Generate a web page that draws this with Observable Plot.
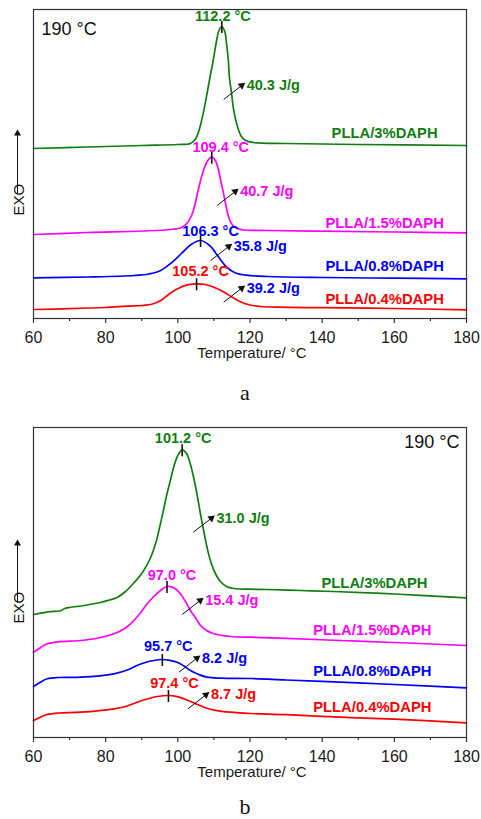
<!DOCTYPE html>
<html>
<head>
<meta charset="utf-8">
<script src="https://cdn.jsdelivr.net/npm/d3@7"></script>
<script src="https://cdn.jsdelivr.net/npm/@observablehq/plot@0.6"></script>
<style>
  body { margin: 0; background: #fff; }
  .cap { font-family: "Liberation Serif", "Times New Roman", serif; font-size: 22px; text-align: center; padding-left: 9px; color: #111; }
  #capA { height: 50px; line-height: 46px; }
  #capB { height: 30px; line-height: 36px; overflow: visible; }
</style>
</head>
<body>
<div id="panelA"></div>
<div class="cap" id="capA">a</div>
<div id="panelB"></div>
<div class="cap" id="capB">b</div>
<script>
// Samples, drawn bottom to top
const samples = ["PLLA/0.4%DAPH", "PLLA/0.8%DAPH", "PLLA/1.5%DAPH", "PLLA/3%DAPH"];
const sampleColors = ["#ff0000", "#0000ff", "#ff00ff", "#0f7f0f"];
const tempTicks = [60, 80, 100, 120, 140, 160, 180];
const tempMinorTicks = [70, 90, 110, 130, 150, 170];

// (a) cooling curves: [temperature °C, heat flow (offset, a.u.)]
const a04 = [[60,9],[70,9.8],[80,11],[86,12.3],[90,13],[93,14.5],[95.5,18.5],[98,25.5],[100.5,30.8],[103,33.8],[105.2,34.7],[107.5,34],[110,31.3],[112.5,27],[115,21.5],[117.5,16.5],[120,13.5],[123,12],[128,11.3],[140,10.8],[160,10],[180,8.7]];
const a08 = [[60,40.7],[75,41.5],[88,43],[92,44.5],[95,47.5],[98,55],[101,65],[103.5,73.5],[106.3,78],[108.8,73],[111.2,62],[113.5,51.5],[116,45.5],[119,43.3],[125,42],[140,41],[160,40.3],[180,39.7]];
const a15 = [[60,84],[75,86],[90,87.5],[98,89],[101,91],[102.5,95],[103.8,103],[104.7,113],[105.4,124.6],[106.3,138],[107.3,150],[108.3,158],[109.4,161.3],[110.4,158],[111.3,148],[112,136],[112.7,124.6],[113.5,110],[114.3,99],[115.3,93],[116.5,90],[118.3,88.5],[125,88],[140,87.3],[160,86.5],[180,85.7]];
const a3 = [[60,170],[75,171.5],[90,173],[100,174],[103.5,175],[105,180],[106.1,191],[107.2,208],[108.1,225],[108.9,241],[109.8,258],[110.6,275],[111.4,288],[112.2,292],[113,287],[113.5,275],[114,258],[114.3,241],[114.9,225],[115.5,208],[116.6,191],[117.6,182],[118.8,178],[121,176],[130,175],[150,174],[180,173]];
const aPeakT = [105.2, 106.3, 109.4, 112.2];
const aEnthalpy = [39.2, 35.8, 40.7, 40.3];

// (b) cooling curves
const b04 = [[60,17],[62,20.5],[63.8,23],[67,24.5],[73,25.3],[82.3,28.7],[86,31.5],[88.7,35.3],[91.5,38.5],[94.3,41],[97.4,42],[99.5,41.2],[101.7,38.7],[104.5,34.5],[107.2,30.3],[110.5,27.2],[114.6,25.3],[120.1,24],[130,22.8],[145,20.3],[160,18.3],[180,14.7]];
const b08 = [[60,51],[62,55.5],[63.8,58.7],[67,60],[73,60.3],[82.3,63.7],[86,67.5],[88.7,72],[91,75],[93.3,77],[95.7,78],[97.8,77.2],[99.8,75.3],[101.7,71.5],[103.5,67],[105.8,63],[108.1,60.3],[112,59.3],[120.1,59],[130,57.5],[145,55.3],[160,53],[180,49.7]];
const b15 = [[60,85.3],[62,90],[63.8,93.7],[67,95.8],[73,97],[78,99.5],[82.3,103.7],[84.8,108],[86.9,113.7],[89.3,123],[91.5,133.7],[93.5,141.5],[95.2,147],[97,151],[99,149.5],[100.7,143.7],[102.2,135.5],[103.5,127],[105,119],[106.3,112],[108,107],[110,103.7],[114.6,101],[120.1,100.3],[130,99.2],[145,97],[160,95],[180,92]];
const b3 = [[60,123],[62,124.3],[64.5,125.8],[67.5,126.8],[68.5,128.8],[70,130],[74,132],[78.6,135],[81,137.5],[83.2,140],[85.5,146],[87.8,154.5],[90.2,165],[92.4,179.5],[94,196],[95.2,214],[96.1,228.7],[97,243.7],[98,258],[98.9,271],[100,282],[101.2,287.7],[102.4,284],[103.5,273],[104.5,258],[105.4,241.5],[106.3,223],[107.2,206],[108.1,190],[109.1,176],[110.4,164],[111.8,156],[113.5,151],[115.5,149],[120,148.3],[124.8,148],[134,147],[143.2,146],[160,143.5],[180,139.7]];
const bPeakT = [97.4, 95.7, 97.0, 101.2];
const bEnthalpy = [8.7, 8.2, 15.4, 31.0];

// linear lookup of a curve at temperature t
function valueAt(pts, t) {
  for (let i = 1; i < pts.length; i++) {
    const [t0, v0] = pts[i - 1], [t1, v1] = pts[i];
    if (t >= t0 && t <= t1) return v0 + (v1 - v0) * (t - t0) / (t1 - t0);
  }
  return pts[pts.length - 1][1];
}

const FONT = "'Liberation Sans', Arial, Helvetica, sans-serif";

function drawPanel(cfg) {
  const rows = cfg.curves.flatMap((pts, i) => pts.map(([t, v]) => ({sample: samples[i], t, v})));
  const peaks = cfg.peakT.map((t, i) => ({t, v: valueAt(cfg.curves[i], t), i}));
  // enthalpy arrows: tail point, head 5 °C right / 14 units up
  const arrows = cfg.arrowTails.map(([t, v], i) => ({t1: t, v1: v, t2: t + 5, v2: v + 14, i}));
  const names = cfg.nameAt.map(([t, v], i) => ({t, v, i}));
  const height = cfg.marginTop + cfg.yMax + 52;

  return Plot.plot({
    width: 481,
    height,
    marginTop: cfg.marginTop,
    marginBottom: 52,
    marginLeft: 33,
    marginRight: 15,
    style: {fontFamily: FONT, background: "#fff", overflow: "visible"},
    x: {domain: [60, 180]},
    y: {domain: [0, cfg.yMax], axis: null},
    color: {domain: samples, range: sampleColors},
    marks: [
      Plot.axisX(tempMinorTicks, {tickSize: 3, tickFormat: () => "", label: null, stroke: "#333", strokeWidth: 1.2}),
      Plot.axisX(tempTicks, {tickSize: 5, tickPadding: 8, fontSize: 16, label: null, stroke: "#333", strokeWidth: 1.2, fill: "#1a1a1a"}),
      Plot.text(["Temperature/ \u00B0C"], {frameAnchor: "bottom", dy: 35, dx: 2, lineAnchor: "middle", fontSize: 15, fill: "#1a1a1a"}),
      Plot.line(rows, {x: "t", y: "v", z: "sample", stroke: "sample", strokeWidth: 1.7, curve: "catmull-rom"}),
      // peak markers
      Plot.ruleX(peaks, {x: "t", y1: d => d.v + 5, y2: d => d.v - 7, stroke: "#111", strokeWidth: 1.6}),
      ...peaks.map((p, i) => Plot.text([p], {
        x: "t", y: "v", text: d => `${d.t.toFixed(1)} \u00B0C`,
        dx: cfg.peakLabelShift[i][0], dy: cfg.peakLabelShift[i][1],
        lineAnchor: "middle", fontSize: 14.5, fontWeight: "bold", fill: sampleColors[i]
      })),
      // crystallization enthalpy arrows
      Plot.link(arrows, {x1: "t1", y1: "v1", x2: "t2", y2: "v2", stroke: "#111", strokeWidth: 1}),
      Plot.dot(arrows, {x: "t2", y: "v2", symbol: "triangle", r: 2.8, rotate: 52, fill: "#111", stroke: null}),
      Plot.text(arrows, {
        x: "t2", y: "v2", text: d => `${cfg.enthalpy[d.i].toFixed(1)} J/g`,
        dx: 5, textAnchor: "start", lineAnchor: "middle", fontSize: 14.5, fontWeight: "bold",
        fill: d => cfg.enthalpyColors[d.i]
      }),
      // sample names
      Plot.text(names, {
        x: "t", y: "v", text: d => samples[d.i], textAnchor: "start", lineAnchor: "middle",
        fontSize: 14.8, fontWeight: "bold", fill: d => sampleColors[d.i]
      }),
      // melt temperature
      Plot.text(["190 \u00B0C"], {
        frameAnchor: cfg.meltAnchor, dx: cfg.meltShift[0], dy: cfg.meltShift[1],
        textAnchor: cfg.meltAnchor === "top-left" ? "start" : "end",
        lineAnchor: "middle", fontSize: 18, fill: "#111"
      }),
      // exotherm direction
      Plot.text(["EXO"], {frameAnchor: "left", y: cfg.exo.text, rotate: -90, dx: -14, lineAnchor: "middle", fontSize: 15, fill: "#111"}),
      Plot.link([0], {x1: 60, x2: 60, y1: cfg.exo.base, y2: cfg.exo.tip, dx: -16, stroke: "#111", strokeWidth: 1}),
      Plot.dot([0], {x: 60, y: cfg.exo.tip, dx: -16, symbol: "triangle", r: 2.6, fill: "#111", stroke: null}),
      Plot.frame({stroke: "#333", strokeWidth: 1.2})
    ]
  });
}

document.getElementById("panelA").append(drawPanel({
  marginTop: 9,
  yMax: 309,
  curves: [a04, a08, a15, a3],
  peakT: aPeakT,
  peakLabelShift: [[4, -12], [10, -9], [9, -10], [1, -10]],
  enthalpy: aEnthalpy,
  enthalpyColors: ["#0000ff", "#0000ff", "#ff00ff", "#0f7f0f"],
  arrowTails: [[112.7, 16.3], [109.1, 58], [110.9, 113], [112.7, 219]],
  nameAt: [[140.9, 19.7], [140.9, 52.3], [140.9, 95.7], [142.6, 185.7]],
  meltAnchor: "top-left",
  meltShift: [8, 20],
  exo: {text: 103, base: 125, tip: 185}
}));

document.getElementById("panelB").append(drawPanel({
  marginTop: 7,
  yMax: 310,
  curves: [b04, b08, b15, b3],
  peakT: bPeakT,
  peakLabelShift: [[6, -12], [6, -13], [5, -11], [1, -11]],
  enthalpy: bEnthalpy,
  enthalpyColors: sampleColors,
  arrowTails: [[102.8, 28.7], [100.3, 65.3], [101.2, 123], [104.3, 205.3]],
  nameAt: [[137.5, 30.3], [137.5, 66], [137.5, 107.7], [139.8, 154.7]],
  meltAnchor: "top-right",
  meltShift: [-7, 15],
  exo: {text: 114, base: 135, tip: 194}
}));
</script>
</body>
</html>
